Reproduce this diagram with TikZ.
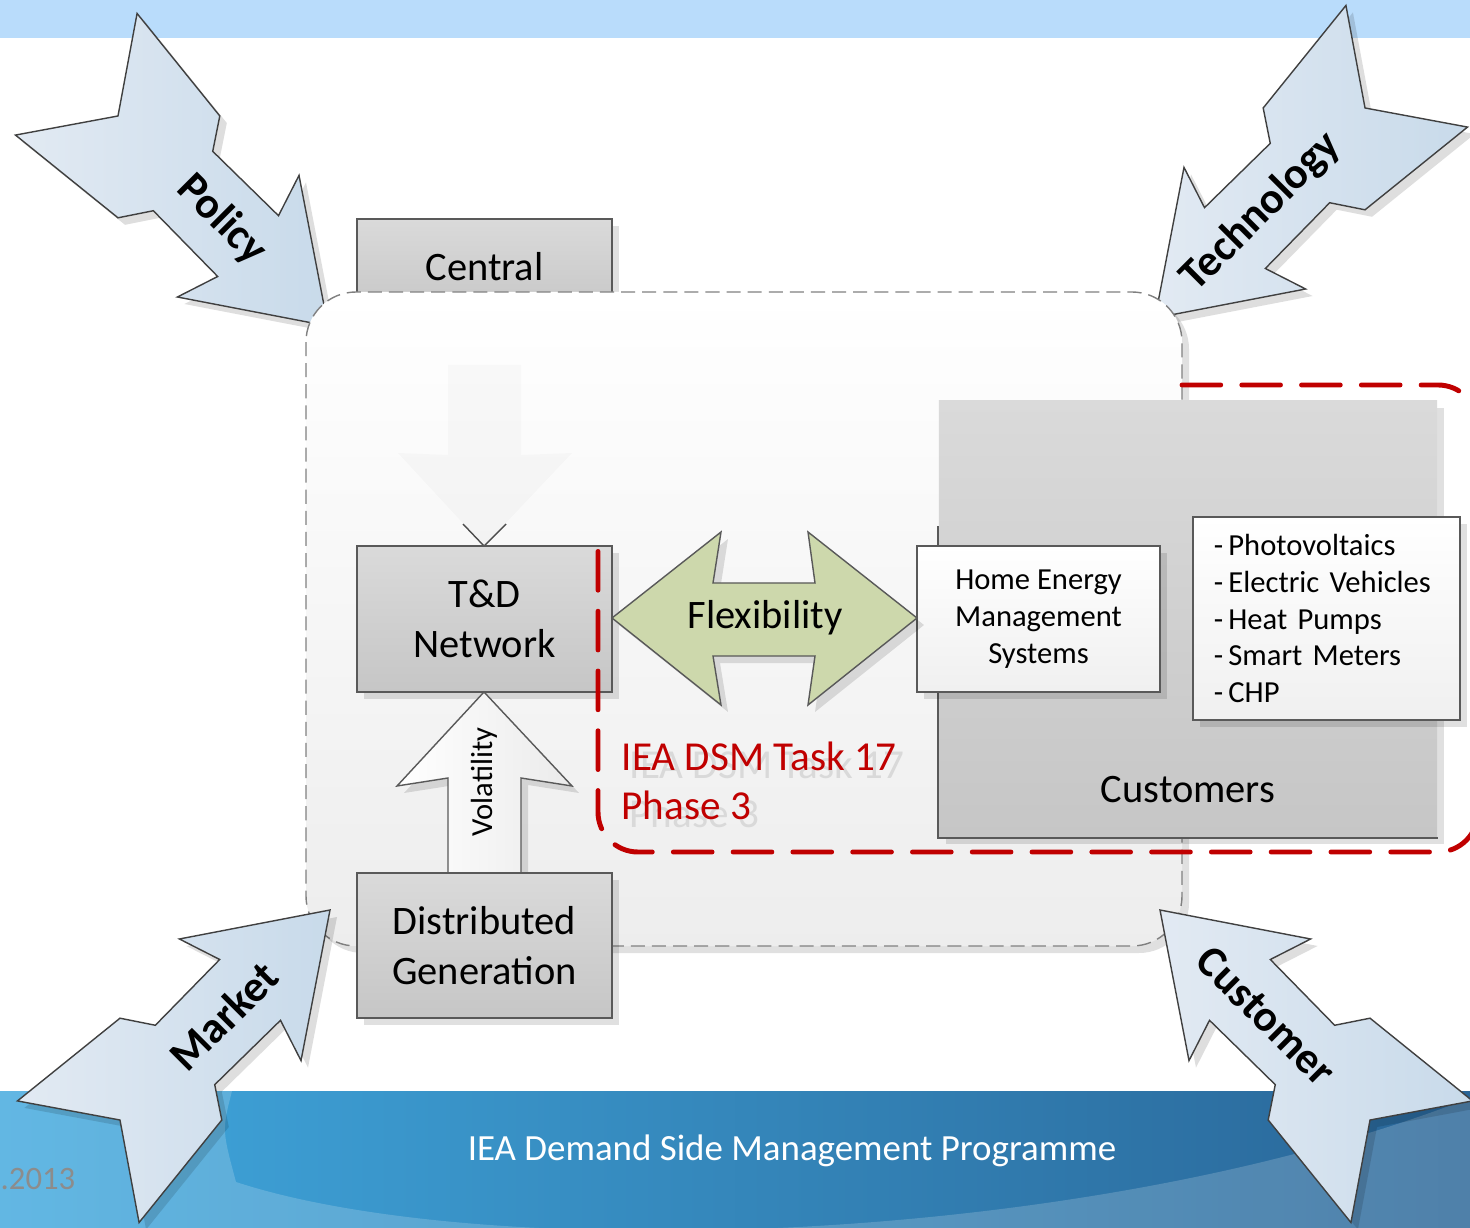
\documentclass[tikz,border=0pt]{standalone}
\usepackage{fontspec}
\setmainfont{Carlito}
\usetikzlibrary{shadows}
\definecolor{bannerblue}{RGB}{185,220,251}
\definecolor{footerleft}{RGB}{64,168,222}
\definecolor{footerright}{RGB}{41,101,151}
\definecolor{arrowlight}{RGB}{226,234,243}
\definecolor{arrowdark}{RGB}{200,218,234}
\definecolor{boxtop}{RGB}{218,218,218}
\definecolor{boxbottom}{RGB}{198,198,198}
\definecolor{flexgreen}{RGB}{205,216,172}
\definecolor{taskred}{RGB}{192,0,0}
\definecolor{framegray}{RGB}{128,128,128}
\tikzset{
    softshadow/.style={
        drop shadow={shadow xshift=0.07cm, shadow yshift=-0.07cm, fill=black, opacity=0.12}
    },
    graybox/.style={
        draw=black!65, thin, top color=boxtop, bottom color=boxbottom,
        minimum width=2.55cm, inner sep=0pt, align=center,
        font=\fontsize{11.5}{14.2}\selectfont, softshadow
    },
    whitebox/.style={
        draw=black!65, thin, top color=white, bottom color=black!6,
        inner sep=0pt, font=\fontsize{8.7}{10.5}\selectfont, softshadow
    },
    forcearrow/.style={
        draw=black!75, thin, left color=arrowlight, right color=arrowdark
    },
    arrowshadow/.style={fill=black, opacity=0.13},
    forcelabel/.style={font=\fontsize{12.5}{15}\selectfont\bfseries},
    biglabel/.style={font=\fontsize{11.5}{14}\selectfont},
    taskframe/.style={
        draw=taskred, line width=1.4pt, dash pattern=on 11pt off 6pt,
        line cap=round, rounded corners=0.4cm
    }
}
\newcommand{\arrowshape}[1]{
    \path[#1] (0,0) -- (-127,86) -- (-113,43) -- (-205,42) -- (-225,72)
        -- (-356,86) -- (-297,0) -- (-356,-86) -- (-225,-72) -- (-205,-42)
        -- (-113,-43) -- (-127,-86) -- cycle;
}
% driver arrow: tip x, tip y, direction, label, label angle
\newcommand{\driver}[5]{
    \begin{scope}[shift={(#1+7,#2+7)}, rotate=#3]
        \arrowshape{arrowshadow}
    \end{scope}
    \begin{scope}[shift={(#1,#2)}, rotate=#3]
        \arrowshape{forcearrow}
        \node[forcelabel, rotate=#5] (#4) at (-150,0) {#4};
    \end{scope}
}
\begin{document}
\begin{tikzpicture}[x=0.01cm, y=-0.01cm]
    \useasboundingbox (0,0) rectangle (1470,1228);
    \clip (0,0) rectangle (1470,1228);

    % Slide title bar and footer
    \fill[bannerblue] (0,0) rectangle (1470,38);
    \shade[left color=footerleft, right color=footerright] (0,1091) rectangle (1470,1228);
    \fill[white, opacity=0.18] (0,1091) -- (232,1091) .. controls (222,1130) .. (236,1182)
        .. controls (480,1262) and (1080,1250) .. (1470,1098) -- (1470,1228) -- (0,1228) -- cycle;
    \node[text=white, font=\fontsize{10.5}{13}\selectfont] (programme) at (792,1151)
        {IEA Demand Side Management Programme};
    \node[text=black!45, font=\fontsize{9.3}{11}\selectfont, anchor=east, inner sep=0pt]
        (date) at (76,1179) {0.2013};

    % Drivers behind the frame
    \driver{328}{326}{-45}{Policy}{-45}
    \driver{1155}{318}{-135}{Technology}{45}

    \node[graybox, minimum height=0.96cm] (central) at (484.5,267) {Central};

    % System frame
    \draw[framegray, thin, dash pattern=on 4pt off 2pt, rounded corners=0.5cm,
        top color=white, bottom color=black!7, softshadow] (306,292) rectangle (1182,946);

    % Faded arrow from central generation
    \fill[black, opacity=0.02] (448,365) -- (521,365) -- (521,455) -- (572,453)
        -- (484,546) -- (398,453) -- (448,455) -- cycle;
    \draw[black!70] (463,524) -- (484,546) -- (506,524);

    \node[graybox, minimum height=1.46cm] (network) at (484.5,619) {T\&D\\Network};

    % Volatility
    \draw[black!65, thin, left color=white, right color=black!8, softshadow]
        (484,692) -- (572,786) -- (521,778) -- (521,873) -- (448,873)
        -- (448,778) -- (397,786) -- cycle;
    \node[rotate=90, font=\fontsize{8.7}{10.5}\selectfont] (volatility) at (484,782) {Volatility};

    \node[graybox, minimum height=1.45cm] (generation) at (484.5,945.5) {Distributed\\Generation};

    % Customer side
    \node[top color=boxtop, bottom color=boxbottom, minimum width=4.98cm,
        minimum height=4.36cm, softshadow] (customers) at (1188,619) {};
    \draw[black!65, thin] (customers.south east) -- (customers.south west) -- ++(0,-312);
    \node[biglabel] (customerslabel) at (1188,790) {Customers};

    \node[whitebox, align=center, minimum width=2.43cm, minimum height=1.46cm]
        (hems) at (1038.5,619) {Home Energy\\Management\\Systems};
    \node[whitebox, align=left, text width=2.25cm, inner xsep=0.21cm, minimum height=2.03cm]
        (devices) at (1326.5,618.5)
        {-\,Photovoltaics\\-\,Electric Vehicles\\-\,Heat Pumps\\-\,Smart Meters\\-\,CHP};

    % Flexibility
    \draw[black!65, thin, fill=flexgreen, softshadow]
        (612,618) -- (721,532) -- (713,583) -- (815,583) -- (808,532) -- (917,618)
        -- (808,705) -- (815,656) -- (713,656) -- (721,705) -- cycle;
    \node[biglabel] (flexibility) at (765,618) {Flexibility};

    % Task scope
    \draw[taskframe] (1182,385) -- (1478,385) -- (1478,852) -- (598,852) -- (598,540);
    \node[text=black!15, anchor=west, align=left, inner sep=0pt,
        font=\fontsize{11.7}{14}\selectfont] (taskghost) at (629,789) {IEA DSM Task 17\\Phase 3};
    \node[text=taskred, anchor=west, align=left, inner sep=0pt,
        font=\fontsize{11.7}{14}\selectfont] (task) at (621,781) {IEA DSM Task 17\\Phase 3};

    % Drivers in front of the frame
    \driver{330}{910}{45}{Market}{45}
    \driver{1160}{910}{135}{Customer}{-45}
\end{tikzpicture}
\end{document}
